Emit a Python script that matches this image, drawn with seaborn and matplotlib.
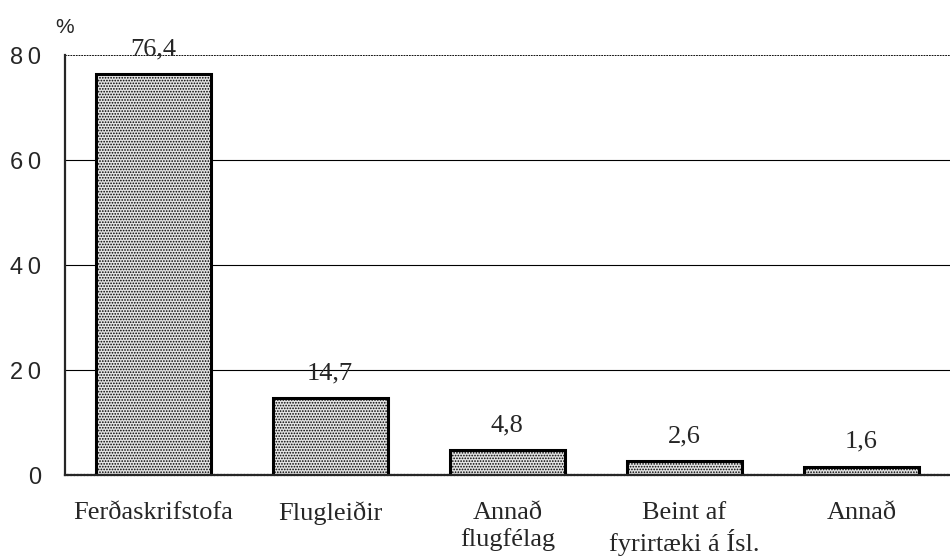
import numpy as np
import pandas as pd
import matplotlib
matplotlib.use("Agg")
import matplotlib.pyplot as plt
import seaborn as sns

categories = ["Ferðaskrifstofa", "Flugleiðir", "Annað\nflugfélag", "Beint af\nfyrirtæki á Ísl.", "Annað"]
values = [76.4, 14.7, 4.8, 2.6, 1.6]
value_labels = ["76,4", "14,7", "4,8", "2,6", "1,6"]
yticks = [0, 20, 40, 60, 80]

df = pd.DataFrame({"cat": categories, "val": values})

sns.set_style("white")
plt.rcParams["hatch.color"] = "#8a8a8a"
plt.rcParams["hatch.linewidth"] = 0.8

fig = plt.figure(figsize=(9.5, 5.57), dpi=100)
ax = fig.add_axes([0.068, 0.147, 0.932, 0.754])

sns.barplot(data=df, x="cat", y="val", color="#e4e4e4", width=0.65,
            edgecolor="black", linewidth=2.2, ax=ax, saturation=1)
for p in ax.patches:
    p.set_hatch("......")

ax.set_xlim(-0.5, 4.5)
ax.set_ylim(0, 80)

# grid lines
for y in yticks[1:]:
    ax.axhline(y, color="black", lw=0.8 if y < 80 else 1.3,
               ls="-" if y < 80 else (0, (1, 0.5)), zorder=0)

for sp in ["top", "right"]:
    ax.spines[sp].set_visible(False)
ax.spines["left"].set_linewidth(1.6)
ax.spines["bottom"].set_linewidth(1.6)
ax.spines["bottom"].set_linestyle((0, (1, 0.5)))

ax.set_yticks(yticks)
ax.set_yticklabels(["\u2009".join(str(t)) for t in yticks], fontfamily="Liberation Sans",
                   fontsize=17)
ax.tick_params(axis="y", length=8, width=1, direction="out", color="black", pad=9)

ax.set_xticks(range(len(categories)))
ax.set_xticklabels(categories, fontfamily="Liberation Serif", fontsize=19,
                   va="top", linespacing=1.25)
ax.tick_params(axis="x", length=0, pad=19)
ax.set_xticks(np.arange(0.5, 4.5, 1), minor=True)
ax.tick_params(axis="x", which="minor", length=10, direction="inout", width=1, color="#555555")

ax.set_xlabel("")
ax.set_ylabel("")

for i, (v, lab) in enumerate(zip(values, value_labels)):
    ax.annotate(lab, (i, v), xytext=(0, 10), textcoords="offset points",
                ha="center", va="bottom", fontfamily="Liberation Serif", fontsize=19)

fig.text(0.058, 0.94, "%", fontfamily="Liberation Sans", fontsize=15)

fig.savefig("out.png", dpi=100)
